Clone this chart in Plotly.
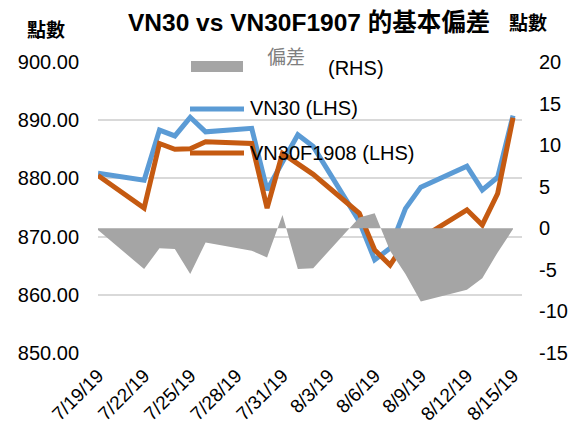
import plotly.graph_objects as go

dates = ['2019-07-19', '2019-07-22', '2019-07-23', '2019-07-24', '2019-07-25', '2019-07-26',
         '2019-07-29', '2019-07-30', '2019-07-31', '2019-08-01', '2019-08-02',
         '2019-08-05', '2019-08-06', '2019-08-07', '2019-08-08', '2019-08-09',
         '2019-08-12', '2019-08-13', '2019-08-14', '2019-08-15']
vn30 = [880.9, 879.7, 888.3, 887.3, 890.5, 888.0, 888.6, 878.0, 882.8, 887.5, 885.5,
        872.6, 866.0, 868.0, 874.8, 878.5, 882.1, 878.0, 880.2, 890.8]
vn30f1908 = [880.5, 874.9, 886.0, 885.0, 885.1, 886.3, 886.0, 874.9, 884.3, 882.6, 880.7,
             874.0, 867.7, 865.1, 869.1, 869.7, 874.6, 872.0, 877.4, 890.4]
basis = [-0.2, -4.9, -2.4, -2.5, -5.5, -1.7, -2.7, -3.5, 1.6, -4.9, -4.8,
         1.3, 1.8, -2.7, -5.5, -8.8, -7.4, -6.0, -2.9, -0.1]

rhs_ticks = [-15, -10, -5, 0, 5, 10, 15, 20]
rhs_labels = ["-15", "-10", "-5", "0", "5", "10", "15", "20"]

title_text = "VN30 vs VN30F1907 的基本偏差"
unit_label = "點數"
name_basis = "偏差"
name_vn30 = "VN30 (LHS)"
name_fut = "VN30F1908 (LHS)"

FONT = "Liberation Sans, Arial, Noto Sans CJK TC, sans-serif"
BLUE = "#5b9bd5"
ORANGE = "#c55a11"
GRAY = "#a5a5a5"

# page body has an 8px margin, so the figure is drawn 8px smaller and offset
OFF = 8
W, H = 579 - OFF, 432 - OFF
L, R, T, B = 98, 522, 62, 353  # plot area in screenshot pixels


def px(x):
    return (x - L) / (R - L)


def py(y):
    return (B - y) / (B - T)


fig = go.Figure()
fig.add_trace(go.Scatter(x=dates, y=basis, yaxis="y2", mode="lines", fill="tozeroy",
                         line=dict(width=0, color=GRAY), fillcolor=GRAY, name=name_basis))
fig.add_trace(go.Scatter(x=dates, y=vn30, mode="lines", line=dict(color=BLUE, width=5),
                         name=name_vn30))
fig.add_trace(go.Scatter(x=dates, y=vn30f1908, mode="lines", line=dict(color=ORANGE, width=5),
                         name=name_fut))

fig.update_layout(
    width=W, height=H,
    margin=dict(l=L - OFF, r=579 - R, t=T - OFF, b=432 - B, pad=0, autoexpand=False),
    paper_bgcolor="white", plot_bgcolor="white",
    showlegend=False,
    font=dict(family=FONT, size=20, color="#000000"),
    xaxis=dict(type="date", range=["2019-07-19", "2019-08-15 14:00"],
               tick0="2019-07-19", dtick=3 * 86400000, tickformat="%-m/%-d/%y",
               tickangle=-45, showgrid=False, zeroline=False, showline=False,
               ticks="outside", ticklen=3, tickcolor="rgba(0,0,0,0)",
               tickfont=dict(size=19), automargin=False),
    yaxis=dict(range=[850, 900], dtick=10, tickformat=".2f", showgrid=True,
               gridcolor="#d9d9d9", gridwidth=1.5, zeroline=False, showline=False,
               ticks="outside", ticklen=14, tickcolor="rgba(0,0,0,0)",
               tickfont=dict(size=20), automargin=False),
    yaxis2=dict(range=[-15, 20], tickmode="array", tickvals=rhs_ticks, ticktext=rhs_labels,
                overlaying="y", side="right", showgrid=False,
                zeroline=False, showline=False, ticks="outside", ticklen=12,
                tickcolor="rgba(0,0,0,0)", tickfont=dict(size=20), automargin=False),
)

ann = []
ann.append(dict(text="<b>" + title_text + "</b>", x=px(309), y=py(22), xref="paper", yref="paper",
                xanchor="center", yanchor="middle", showarrow=False, font=dict(size=24.5)))
ann.append(dict(text="<b>" + unit_label + "</b>", x=px(46), y=py(31), xref="paper", yref="paper",
                xanchor="center", yanchor="middle", showarrow=False, font=dict(size=19)))
ann.append(dict(text="<b>" + unit_label + "</b>", x=px(528), y=py(23), xref="paper", yref="paper",
                xanchor="center", yanchor="middle", showarrow=False, font=dict(size=19)))
ann.append(dict(text=name_basis, x=px(286), y=py(57), xref="paper", yref="paper",
                xanchor="center", yanchor="middle", showarrow=False,
                font=dict(size=19, color="#7f7f7f")))
ann.append(dict(text="(RHS)", x=px(326), y=py(68), xref="paper", yref="paper",
                xanchor="left", yanchor="middle", showarrow=False, font=dict(size=20)))
ann.append(dict(text=name_vn30, x=px(248), y=py(108), xref="paper", yref="paper",
                xanchor="left", yanchor="middle", showarrow=False, font=dict(size=20)))
ann.append(dict(text=name_fut, x=px(248), y=py(153), xref="paper", yref="paper",
                xanchor="left", yanchor="middle", showarrow=False, font=dict(size=20)))

shapes = [
    dict(type="rect", xref="paper", yref="paper", x0=px(191), x1=px(243), y0=py(72), y1=py(61),
         fillcolor=GRAY, line=dict(width=0)),
    dict(type="line", xref="paper", yref="paper", x0=px(190), x1=px(244), y0=py(109), y1=py(109),
         line=dict(color=BLUE, width=5)),
    dict(type="line", xref="paper", yref="paper", x0=px(190), x1=px(244), y0=py(153), y1=py(153),
         line=dict(color=ORANGE, width=5)),
]
fig.update_layout(annotations=ann, shapes=shapes)

fig.write_html("out.html")
